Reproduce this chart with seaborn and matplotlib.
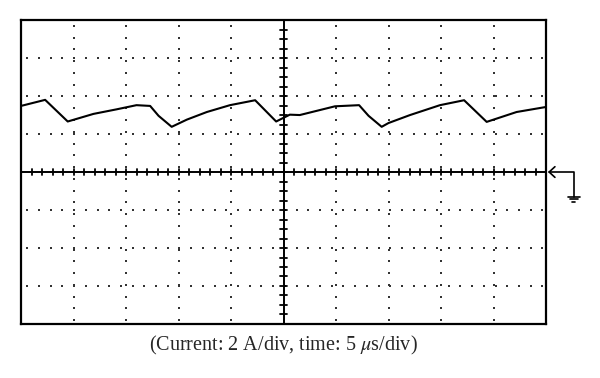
import numpy as np
import pandas as pd
import matplotlib
matplotlib.use("Agg")
import matplotlib.pyplot as plt
import seaborn as sns

# ---------------------------------------------------------------------------
# Trace (x in time divisions, y in current divisions)
# ---------------------------------------------------------------------------
wave_t = [0.00, 0.46, 0.89, 1.38, 1.82, 2.20, 2.46, 2.62, 2.87, 3.16, 3.54,
          3.98, 4.46, 4.86, 5.12, 5.31, 5.98, 6.44, 6.62, 6.87, 7.00, 7.41,
          7.98, 8.44, 8.87, 9.44, 9.99]
wave_i = [1.74, 1.90, 1.33, 1.53, 1.65, 1.76, 1.74, 1.48, 1.19, 1.38, 1.58,
          1.76, 1.89, 1.33, 1.51, 1.50, 1.73, 1.76, 1.48, 1.19, 1.29, 1.50,
          1.76, 1.89, 1.32, 1.58, 1.71]

CAPTION = r"(Current: 2 A/div, time: 5 $\mu$s/div)"

N_XDIV = 10
N_YDIV = 8

sns.set_style("white")
plt.rcParams["mathtext.fontset"] = "stix"

fig = plt.figure(figsize=(6.0, 3.78), dpi=100)
ax = fig.add_axes([0.035, 0.1429, 0.875, 0.804])
ax.set_xlim(0, N_XDIV)
ax.set_ylim(-N_YDIV / 2, N_YDIV / 2)
ax.set_xticks([])
ax.set_yticks([])
for sp in ax.spines.values():
    sp.set_color("black")
    sp.set_linewidth(1.6)

# --- dotted graticule ---
dot_rows = []
xc = N_XDIV / 2
for gy in [-3, -2, -1, 1, 2, 3]:
    for x in np.arange(0.12, N_XDIV, 0.223):
        dot_rows.append((x, gy))
for gx in [1, 2, 3, 4, 6, 7, 8, 9]:
    for y in np.arange(-3.9, 4.0, 0.31):
        dot_rows.append((gx, y))
dots = pd.DataFrame(dot_rows, columns=["x", "y"])
sns.scatterplot(data=dots, x="x", y="y", ax=ax, s=2.0, color="#333333",
                marker="s", linewidth=0, legend=False)

# --- centre axes with minor ticks ---
ax.axhline(0, color="black", lw=1.4)
ax.axvline(xc, color="black", lw=1.4)
for x in np.arange(0.2, N_XDIV, 0.2):
    ax.plot([x, x], [-0.08, 0.08], color="black", lw=1.3)
for y in np.arange(-3.75, 4.0, 0.25):
    ax.plot([xc - 0.06, xc + 0.06], [y, y], color="black", lw=1.3)

# --- waveform ---
trace = pd.DataFrame({"t": wave_t, "i": wave_i})
sns.lineplot(data=trace, x="t", y="i", ax=ax, color="black", lw=1.5,
             sort=False, legend=False)
ax.set_xlabel("")
ax.set_ylabel("")

# --- ground reference marker on the right edge ---
gk = dict(color="black", lw=1.2, clip_on=False)
ax.plot([10.17, 10.06, 10.17], [0.14, 0.0, -0.14], **gk)
ax.plot([10.06, 10.53, 10.53], [0.0, 0.0, -0.66], **gk)
for yy, hw in [(-0.66, 0.12), (-0.72, 0.07), (-0.78, 0.03)]:
    ax.plot([10.53 - hw, 10.53 + hw], [yy, yy], **gk)

fig.text(283 / 600, 1 - 345 / 378, CAPTION, ha="center", va="center",
         family="Liberation Serif", fontsize=14.5)

fig.savefig("out.png", dpi=100)
plt.close(fig)
